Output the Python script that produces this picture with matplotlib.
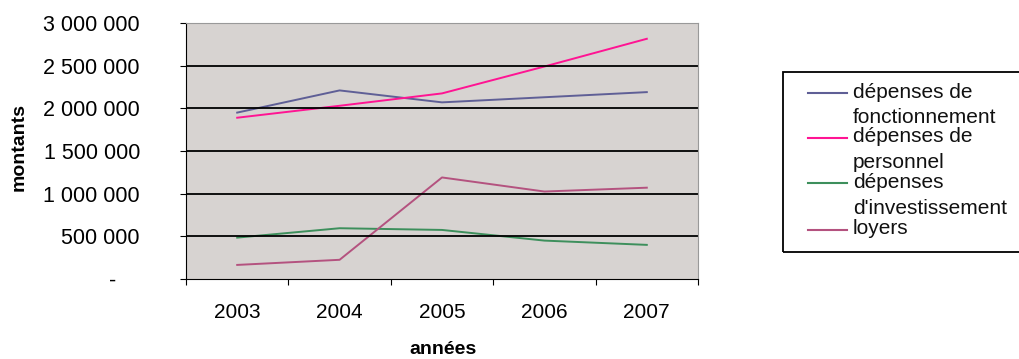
import matplotlib
matplotlib.use('Agg')
from matplotlib import pyplot as plt
from matplotlib.lines import Line2D
from matplotlib.patches import Rectangle

plt.rcParams['font.family'] = ['Liberation Sans', 'DejaVu Sans']

years = ['2003', '2004', '2005', '2006', '2007']
fonctionnement = [1950000, 2210000, 2070000, 2130000, 2190000]
personnel = [1890000, 2030000, 2175000, 2490000, 2815000]
investissement = [485000, 595000, 575000, 450000, 400000]
loyers = [165000, 225000, 1190000, 1025000, 1070000]

labels = ['dépenses de\nfonctionnement', 'dépenses de\npersonnel',
          'dépenses\nd\'investissement', 'loyers']
colors = ['#5f5f96', '#ff1493', '#3d8f5c', '#b4527f']
series = [fonctionnement, personnel, investissement, loyers]

W, H = 1020, 359
PX = 0.72  # points per pixel at 100 dpi
fig = plt.figure(figsize=(W / 100, H / 100), dpi=100)
ax = fig.add_axes([186 / W, 1 - 279 / H, 512 / W, 256 / H])
ax.set_facecolor('#d7d3d1')

x = range(len(years))
for vals, c in zip(series, colors):
    ax.plot(x, vals, color=c, lw=1.4)

ax.set_xlim(-0.5, len(years) - 0.5)
ax.set_ylim(0, 3000000)
ax.set_yticks(range(0, 3000001, 500000))
ylabels = ['-    '] + [f'{v:,}'.replace(',', ' ') for v in range(500000, 3000001, 500000)]
ax.set_yticklabels(ylabels)
for v in range(500000, 3000000, 500000):
    ax.axhline(v, color='black', lw=1.3)

ax.set_xticks([i - 0.5 for i in range(len(years) + 1)])
ax.set_xticklabels([])
ax.set_xticks(list(x), minor=True)
ax.set_xticklabels(years, minor=True)
ax.tick_params(axis='x', which='major', length=6 * PX, direction='out')
ax.tick_params(axis='x', which='minor', length=0, pad=24 * PX, labelsize=15)
ax.tick_params(axis='y', length=6 * PX, direction='out', pad=40 * PX, labelsize=15.5)

for s in ['top', 'right']:
    ax.spines[s].set_color('#999999')
ax.spines['left'].set_color('black')
ax.spines['bottom'].set_color('black')

fig.text(443 / W, 1 - 349 / H, 'années', ha='center', va='center',
         fontsize=14, fontweight='bold')
fig.text(19 / W, 1 - 147 / H, 'montants', ha='center', va='center',
         fontsize=14, fontweight='bold', rotation=90)

# legend drawn by hand to match the wrapped layout
fig.add_artist(Rectangle((783 / W, 1 - 252 / H), (1030 - 783) / W, 180 / H,
                         transform=fig.transFigure, fill=False,
                         edgecolor='black', lw=1.3, clip_on=False))
tops = [92, 137, 182, 229]
for lab, c, y in zip(labels, colors, tops):
    fig.add_artist(Line2D([808 / W, 847 / W], [1 - (y + 1) / H] * 2,
                          color=c, lw=1.5, transform=fig.transFigure))
    for k, line in enumerate(lab.split('\n')):
        fig.text(853 / W, 1 - (y + 26 * k) / H, line, ha='left', va='center',
                 fontsize=15, color='#111111')

fig.savefig('out.png', dpi=100)
